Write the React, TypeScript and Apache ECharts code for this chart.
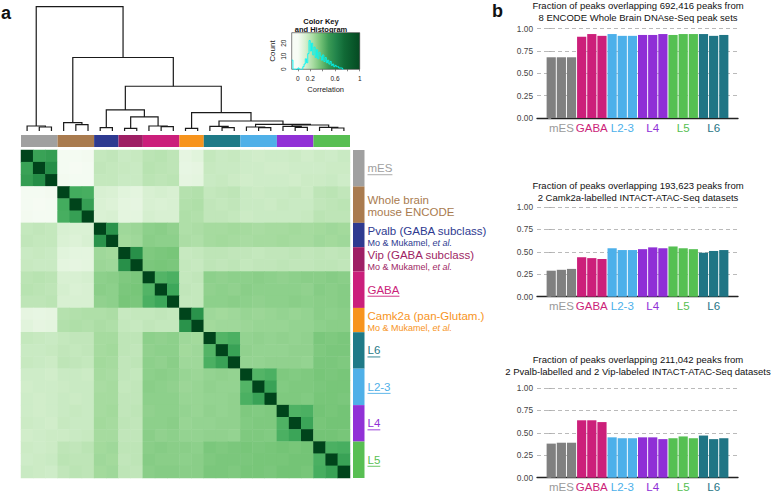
import React, { useEffect, useRef } from "react";
import * as echarts from "echarts";

// ---------- Heatmap groups ----------
const GROUP_SIZES = [3, 3, 2, 2, 3, 2, 3, 3, 3, 3];
const GROUP_COLORS = ["#a0a0a0", "#a97b4f", "#2e3a90", "#9e1f64", "#cb1f7b", "#f7941d", "#1f7a87", "#4fb0e8", "#9131d6", "#58bf53"];
const ROW_LABELS = ["mES", "Whole brain\nmouse ENCODE", "Pvalb (GABA subclass)", "Vip (GABA subclass)", "GABA", "Camk2a (pan-Glutam.)", "L6", "L2-3", "L4", "L5"];
const ROW_LABEL_SUB = [false, false, true, true, false, true, false, false, false, false];
const ROW_LABEL_UNDERLINE = [true, false, false, false, true, false, true, true, true, true];

// correlation (percent), rows/cols in dendrogram order
const CORRELATION = [
  [100, 66, 68, 2, 2, 3, 26, 27, 24, 25, 29, 30, 28, 12, 14, 26, 24, 25, 22, 21, 22, 22, 23, 21, 23, 22, 24],
  [66, 100, 74, 2, 1, 2, 27, 26, 25, 24, 30, 29, 28, 11, 12, 25, 24, 24, 22, 22, 21, 21, 22, 22, 22, 23, 23],
  [68, 74, 100, 3, 2, 2, 26, 26, 24, 24, 29, 28, 29, 12, 13, 24, 25, 23, 21, 22, 22, 22, 21, 23, 23, 24, 22],
  [2, 2, 3, 100, 62, 61, 18, 17, 14, 13, 18, 19, 18, 31, 32, 26, 27, 28, 24, 23, 24, 24, 25, 23, 28, 29, 27],
  [2, 1, 2, 62, 100, 67, 17, 16, 13, 12, 18, 17, 18, 32, 33, 27, 26, 27, 24, 24, 23, 25, 24, 24, 27, 28, 29],
  [3, 2, 2, 61, 67, 100, 17, 18, 13, 13, 19, 18, 18, 33, 32, 27, 27, 26, 23, 24, 24, 24, 24, 25, 29, 28, 28],
  [26, 27, 26, 18, 17, 17, 100, 72, 38, 39, 43, 44, 42, 33, 34, 36, 36, 37, 36, 35, 36, 36, 37, 36, 37, 38, 37],
  [27, 26, 26, 17, 16, 18, 72, 100, 37, 38, 44, 43, 43, 34, 33, 36, 37, 36, 35, 36, 36, 37, 36, 36, 38, 37, 38],
  [24, 25, 24, 14, 13, 13, 38, 37, 100, 73, 47, 48, 49, 25, 26, 28, 28, 27, 27, 26, 27, 27, 28, 27, 28, 27, 28],
  [25, 24, 24, 13, 12, 13, 39, 38, 73, 100, 48, 49, 48, 26, 25, 28, 27, 28, 26, 27, 27, 28, 27, 27, 28, 28, 27],
  [29, 30, 29, 18, 18, 19, 43, 44, 47, 48, 100, 58, 60, 26, 27, 43, 42, 43, 43, 44, 43, 42, 43, 44, 44, 45, 44],
  [30, 29, 28, 19, 17, 18, 44, 43, 48, 49, 58, 100, 64, 27, 26, 42, 43, 42, 44, 43, 43, 43, 43, 42, 45, 44, 45],
  [28, 28, 29, 18, 18, 18, 42, 43, 49, 48, 60, 64, 100, 26, 26, 43, 43, 44, 43, 42, 43, 43, 44, 43, 44, 44, 45],
  [12, 11, 12, 31, 32, 33, 33, 34, 25, 26, 26, 27, 26, 100, 72, 38, 37, 38, 40, 39, 40, 41, 40, 41, 44, 43, 44],
  [14, 12, 13, 32, 33, 32, 34, 33, 26, 25, 27, 26, 26, 72, 100, 37, 38, 38, 39, 40, 40, 40, 41, 41, 43, 44, 44],
  [26, 25, 24, 26, 27, 27, 36, 36, 28, 28, 43, 42, 43, 38, 37, 100, 58, 60, 41, 42, 41, 42, 41, 42, 48, 47, 48],
  [24, 24, 25, 27, 26, 27, 36, 37, 28, 27, 42, 43, 43, 37, 38, 58, 100, 66, 42, 41, 41, 41, 42, 42, 47, 48, 48],
  [25, 24, 23, 28, 27, 26, 37, 36, 27, 28, 43, 42, 44, 38, 38, 60, 66, 100, 41, 41, 42, 42, 42, 41, 48, 48, 47],
  [22, 22, 21, 24, 24, 23, 36, 35, 27, 26, 43, 44, 43, 40, 39, 41, 42, 41, 100, 58, 60, 47, 46, 47, 49, 48, 49],
  [21, 22, 22, 23, 24, 24, 35, 36, 26, 27, 44, 43, 42, 39, 40, 42, 41, 41, 58, 100, 66, 46, 47, 47, 48, 49, 49],
  [22, 21, 22, 24, 23, 24, 36, 36, 27, 27, 43, 43, 43, 40, 40, 41, 41, 42, 60, 66, 100, 47, 47, 46, 49, 49, 48],
  [22, 21, 22, 24, 25, 24, 36, 37, 27, 28, 42, 43, 43, 41, 40, 42, 41, 42, 47, 46, 47, 100, 59, 60, 50, 49, 50],
  [23, 22, 21, 25, 24, 24, 37, 36, 28, 27, 43, 43, 44, 40, 41, 41, 42, 42, 46, 47, 47, 59, 100, 65, 49, 50, 50],
  [21, 22, 23, 23, 24, 25, 36, 36, 27, 27, 44, 42, 43, 41, 41, 42, 42, 41, 47, 47, 46, 60, 65, 100, 50, 50, 49],
  [23, 22, 23, 28, 27, 29, 37, 38, 28, 28, 44, 45, 44, 44, 43, 48, 47, 48, 49, 48, 49, 50, 49, 50, 100, 60, 61],
  [22, 23, 24, 29, 28, 28, 38, 37, 27, 28, 45, 44, 44, 43, 44, 47, 48, 48, 48, 49, 49, 49, 50, 50, 60, 100, 66],
  [24, 23, 22, 27, 29, 28, 37, 38, 28, 27, 44, 45, 45, 44, 44, 48, 48, 47, 49, 49, 48, 50, 50, 49, 61, 66, 100],
];

// dendrogram merges: [childA, childB, height]; leaves 0..26, new clusters from 27
const LINKAGE: [number, number, number][] = [
  [1, 2, 12], [0, 27, 15], [4, 5, 19], [3, 29, 25], [6, 7, 10], [8, 9, 8], [11, 12, 13], [10, 33, 15],
  [32, 34, 42], [31, 35, 63], [13, 14, 8], [16, 17, 10], [15, 38, 14], [19, 20, 10], [18, 40, 12],
  [22, 23, 11], [21, 42, 14], [25, 26, 9], [24, 44, 11], [43, 45, 18], [41, 46, 20], [39, 47, 30],
  [37, 48, 55], [36, 49, 134], [30, 50, 220], [28, 51, 372],
];
const DENDRO_MAX = 372;

// color key histogram
const HIST_X = [-0.1, -0.08, 0, 0.02, 0.04, 0.06, 0.08, 0.1, 0.12, 0.14, 0.16, 0.18, 0.2, 0.22, 0.24, 0.26, 0.28, 0.3, 0.32, 0.34, 0.36, 0.38, 0.4, 0.42, 0.44, 0.46, 0.48, 0.5, 0.52, 0.54, 0.56, 0.58, 0.6, 0.62, 0.64, 0.66, 0.68, 0.7, 0.72, 0.74];
const HIST_COUNT = [7, 0, 1, 0, 0, 0, 2, 4, 8, 5, 12, 22, 14, 20, 11, 17, 9, 15, 8, 13, 10, 7, 11, 6, 9, 5, 7, 4, 6, 3, 4, 2, 3, 2, 2, 1, 1, 1, 0, 0];

const GREENS = ["#f7fcf5", "#e5f5e0", "#c7e9c0", "#a1d99b", "#74c476", "#41ab5d", "#238b45", "#006d2c", "#00441b"];
const KEY_COLORS = ["#f7fcf5", "#d5efcf", "#a6dba0", "#6fbf73", "#3a9a55", "#21834a", "#116a36", "#0a5a2c", "#054a22"];

// ---------- Bar panels ----------
const BAR_GROUPS = ["mES", "GABA", "L2-3", "L4", "L5", "L6"];
const BAR_GROUP_COLORS = ["#808080", "#cc1f7a", "#4cb0ea", "#8f2fd6", "#55c052", "#1f7585"];
const BAR_LABEL_COLORS = ["#9a9a9a", "#cc1f7a", "#4cb0ea", "#8f2fd6", "#55c052", "#1f7585"];
const ENCODE_FRACTION = [0.68, 0.68, 0.68, 0.91, 0.94, 0.92, 0.94, 0.92, 0.92, 0.93, 0.93, 0.94, 0.93, 0.94, 0.94, 0.94, 0.92, 0.93];
const CAMK2A_FRACTION = [0.29, 0.30, 0.31, 0.44, 0.43, 0.42, 0.54, 0.52, 0.52, 0.53, 0.55, 0.54, 0.56, 0.54, 0.53, 0.49, 0.51, 0.52];
const PVALB_VIP_FRACTION = [0.38, 0.39, 0.39, 0.64, 0.64, 0.62, 0.45, 0.44, 0.44, 0.45, 0.45, 0.43, 0.44, 0.46, 0.44, 0.47, 0.43, 0.44];
const BAR_TITLES = [
  "Fraction of peaks overlapping 692,416 peaks from\n8 ENCODE Whole Brain DNAse-Seq peak sets",
  "Fraction of peaks overlapping 193,623 peaks from\n2 Camk2a-labelled INTACT-ATAC-Seq datasets",
  "Fraction of peaks overlapping 211,042 peaks from\n2 Pvalb-labelled and 2 Vip-labeled INTACT-ATAC-Seq datasets",
];

const FONT = "Liberation Sans, Arial, Helvetica, sans-serif";

export default function App() {
  const ref = useRef<HTMLDivElement>(null);
  useEffect(() => {
    const chart = echarts.init(ref.current!, null, { renderer: "svg" });
    const N = 27;
    const idx = Array.from({ length: N }, (_, i) => String(i));

    // dendrogram layout
    const nodeX: number[] = [];
    const nodeH: number[] = [];
    for (let i = 0; i < N; i++) { nodeX.push(i); nodeH.push(0); }
    const dendroData = LINKAGE.map(([a, b, h]) => {
      const item = [nodeX[a], nodeH[a], nodeX[b], nodeH[b], h];
      nodeX.push((nodeX[a] + nodeX[b]) / 2);
      nodeH.push(h);
      return item;
    });

    // group ranges
    const groupRanges: number[][] = [];
    let s = 0;
    GROUP_SIZES.forEach((n, k) => { groupRanges.push([s, s + n - 1, k]); s += n; });

    const heatData: number[][] = [];
    CORRELATION.forEach((row, r) => row.forEach((v, c) => heatData.push([c, r, v / 100])));

    const canvas = document.createElement("canvas");
    const ctx = canvas.getContext("2d")!;
    ctx.font = '11.5px "Liberation Sans"';

    const grids = [
      { left: 21, top: 6.7, width: 329, height: 124.3 },
      { left: 21, top: 135, width: 329, height: 12 },
      { left: 21, top: 150, width: 329, height: 328 },
      { left: 353, top: 150, width: 11.5, height: 328 },
      { left: 291.7, top: 32.7, width: 68, height: 36.6 },
      { left: 537, top: 28.7, width: 201, height: 89.3 },
      { left: 537, top: 207, width: 201, height: 89.7 },
      { left: 537, top: 388, width: 201, height: 89.7 },
    ];

    const xAxes: any[] = [
      { gridIndex: 0, type: "value", min: -0.5, max: 26.5, show: false },
      { gridIndex: 1, type: "category", data: idx, show: false },
      { gridIndex: 2, type: "category", data: idx, show: false },
      { gridIndex: 3, type: "value", min: 0, max: 1, show: false },
      {
        gridIndex: 4, type: "value", min: -0.1, max: 1,
        axisLine: { show: false },
        axisTick: { show: true, length: 2, lineStyle: { color: "#333", width: 0.6 }, customValues: [0, 0.2, 0.4, 0.6, 0.8, 1] },
        axisLabel: { fontSize: 6.5, color: "#222", margin: 6, customValues: [0, 0.2, 0.6, 1], fontFamily: FONT },
        splitLine: { show: false },
        name: "Correlation", nameLocation: "middle", nameGap: 16,
        nameTextStyle: { fontSize: 7.5, color: "#222", fontFamily: FONT },
      },
    ];
    const yAxes: any[] = [
      { gridIndex: 0, type: "value", min: 0, max: DENDRO_MAX, show: false },
      { gridIndex: 1, type: "value", min: 0, max: 1, show: false },
      { gridIndex: 2, type: "category", data: idx, inverse: true, show: false },
      { gridIndex: 3, type: "category", data: idx, inverse: true, show: false },
      {
        gridIndex: 4, type: "value", min: 0, max: 28,
        axisLine: { show: false },
        axisTick: { show: true, length: 2, lineStyle: { color: "#333", width: 0.6 }, customValues: [0, 5, 10, 15, 20, 25] },
        axisLabel: { fontSize: 6.5, color: "#222", margin: 5, rotate: 90, customValues: [0, 10, 20], fontFamily: FONT },
        splitLine: { show: false },
        name: "Count", nameLocation: "middle", nameGap: 15, nameRotate: 90,
        nameTextStyle: { fontSize: 8, color: "#222", fontFamily: FONT },
      },
    ];
    for (let p = 0; p < 3; p++) {
      xAxes.push({
        gridIndex: 5 + p, type: "value", min: -1.4, max: 18.4,
        axisLine: { show: true, onZero: false, lineStyle: { color: "#222", width: 1.3 } },
        axisTick: { show: false }, axisLabel: { show: false }, splitLine: { show: false },
      });
      yAxes.push({
        gridIndex: 5 + p, type: "value", min: 0, max: 1, interval: 0.25,
        axisLine: { show: false },
        axisTick: { show: true, length: 3, lineStyle: { color: "#999", width: 0.8 } },
        axisLabel: { fontSize: 8.3, color: "#444", margin: 4, formatter: (v: number) => v.toFixed(2), fontFamily: FONT },
        splitLine: { show: true, lineStyle: { color: "#a8a8a8", width: 0.8, type: [4, 3] } },
      });
    }

    const series: any[] = [
      {
        type: "custom", xAxisIndex: 0, yAxisIndex: 0, data: dendroData, silent: true,
        renderItem: (params: any, api: any) => {
          const xa = api.value(0), ha = api.value(1), xb = api.value(2), hb = api.value(3), h = api.value(4);
          return {
            type: "polyline",
            shape: { points: [api.coord([xa, ha]), api.coord([xa, h]), api.coord([xb, h]), api.coord([xb, hb])] },
            style: { stroke: "#1a1a1a", lineWidth: 1.2, fill: "none" },
          };
        },
      },
      {
        type: "custom", xAxisIndex: 1, yAxisIndex: 1, data: groupRanges, silent: true,
        renderItem: (params: any, api: any) => {
          const a = api.coord([api.value(0), 0]);
          const b = api.coord([api.value(1), 0]);
          const bw = api.size([1, 0])[0];
          const cs = params.coordSys;
          return {
            type: "rect",
            shape: { x: a[0] - bw / 2, y: cs.y, width: b[0] - a[0] + bw, height: cs.height },
            style: { fill: GROUP_COLORS[api.value(2)] },
          };
        },
      },
      {
        type: "heatmap", xAxisIndex: 2, yAxisIndex: 2, data: heatData, silent: true,
        emphasis: { disabled: true }, progressive: 0,
      },
      {
        type: "custom", xAxisIndex: 3, yAxisIndex: 3, data: groupRanges, silent: true,
        renderItem: (params: any, api: any) => {
          const k = api.value(2);
          const a = api.coord([0, api.value(0)]);
          const b = api.coord([0, api.value(1)]);
          const bh = api.size([0, 1])[1];
          const cs = params.coordSys;
          const color = GROUP_COLORS[k];
          const cy = (a[1] + b[1]) / 2;
          const tx = cs.x + cs.width + 3;
          const children: any[] = [
            { type: "rect", shape: { x: cs.x, y: a[1] - bh / 2, width: cs.width, height: b[1] - a[1] + bh }, style: { fill: color } },
          ];
          const label = ROW_LABELS[k];
          if (ROW_LABEL_SUB[k]) {
            children.push({
              type: "text", x: tx, y: cy + 1.5,
              style: {
                text: `{m|${label}}\n{s|Mo & Mukamel, }{i|et al.}`,
                fill: color, align: "left", verticalAlign: "middle", fontFamily: FONT,
                rich: {
                  m: { fontSize: 11.5, lineHeight: 12.5, fill: color, fontFamily: FONT },
                  s: { fontSize: 9, lineHeight: 11, fill: color, fontFamily: FONT },
                  i: { fontSize: 9, lineHeight: 11, fill: color, fontStyle: "italic", fontFamily: FONT },
                },
              },
            });
          } else {
            children.push({
              type: "text", x: tx, y: label.includes("\n") ? cy + 1.5 : cy,
              style: { text: label, fill: color, fontSize: 11.5, lineHeight: 11.5, align: "left", verticalAlign: "middle", fontFamily: FONT },
            });
          }
          if (ROW_LABEL_UNDERLINE[k]) {
            const w = ctx.measureText(label).width;
            children.push({ type: "line", shape: { x1: tx, y1: cy + 6.5, x2: tx + w, y2: cy + 6.5 }, style: { stroke: color, lineWidth: 0.9 } });
          }
          return { type: "group", children };
        },
      },
      {
        type: "custom", xAxisIndex: 4, yAxisIndex: 4, data: [[-0.1, 28, 1, 0]], silent: true, z: 2,
        renderItem: (params: any, api: any) => {
          const a = api.coord([api.value(0), api.value(1)]);
          const b = api.coord([api.value(2), api.value(3)]);
          const stops = KEY_COLORS.map((c, i) => ({ offset: (i / (KEY_COLORS.length - 1) + 0.1) / 1.1, color: c }));
          stops.unshift({ offset: 0, color: KEY_COLORS[0] });
          return {
            type: "rect",
            shape: { x: a[0], y: a[1], width: b[0] - a[0], height: b[1] - a[1] },
            style: { fill: new echarts.graphic.LinearGradient(0, 0, 1, 0, stops), stroke: "#333", lineWidth: 0.6 },
          };
        },
      },
      {
        type: "line", xAxisIndex: 4, yAxisIndex: 4, z: 3, silent: true, step: "end", symbol: "none",
        data: HIST_X.map((x, i) => [x, HIST_COUNT[i]]),
        lineStyle: { color: "#00f5f5", width: 0.9 },
      },
    ];

    const fractions = [ENCODE_FRACTION, CAMK2A_FRACTION, PVALB_VIP_FRACTION];
    fractions.forEach((vals, p) => {
      series.push({
        type: "bar", xAxisIndex: 5 + p, yAxisIndex: 5 + p, barWidth: 9.2, silent: true,
        data: vals.map((v, i) => ({ value: [i, v], itemStyle: { color: BAR_GROUP_COLORS[Math.floor(i / 3)] } })),
      });
    });
    fractions.forEach((_, p) => {
      series.push({
        type: "custom", xAxisIndex: 5 + p, yAxisIndex: 5 + p, silent: true,
        data: BAR_GROUPS.map((g, k) => [3 * k + 1, k]),
        renderItem: (params: any, api: any) => {
          const k = api.value(1);
          const pt = api.coord([api.value(0), 0]);
          return {
            type: "text", x: pt[0], y: pt[1] + 9.5,
            style: { text: BAR_GROUPS[k], fill: BAR_LABEL_COLORS[k], fontSize: 11.5, align: "center", verticalAlign: "middle", fontFamily: FONT },
          };
        },
      });
    });

    const titleTops = [-0.8, 179.5, 353.5];
    const graphic: any[] = [
      { type: "text", x: 1, y: 4, style: { text: "a", fontSize: 18, fontWeight: "bold", fill: "#111", fontFamily: FONT } },
      { type: "text", x: 492, y: 2, style: { text: "b", fontSize: 18, fontWeight: "bold", fill: "#111", fontFamily: FONT } },
      { type: "text", x: 321, y: 21.5, style: { text: "Color Key", fontSize: 7.5, fontWeight: "bold", fill: "#111", align: "center", verticalAlign: "middle", fontFamily: FONT } },
      { type: "text", x: 321, y: 29, style: { text: "and Histogram", fontSize: 7.5, fontWeight: "bold", fill: "#111", align: "center", verticalAlign: "middle", fontFamily: FONT } },
    ];
    BAR_TITLES.forEach((t, p) => {
      graphic.push({
        type: "text", x: 638, y: titleTops[p],
        style: { text: t, fontSize: 9.5, lineHeight: 12, fill: "#111", align: "center", verticalAlign: "top", fontFamily: FONT },
      });
    });

    chart.setOption({
      animation: false,
      backgroundColor: "#ffffff",
      textStyle: { fontFamily: FONT },
      grid: grids,
      xAxis: xAxes,
      yAxis: yAxes,
      visualMap: {
        type: "continuous", show: false, min: 0, max: 1, dimension: 2, seriesIndex: 2,
        inRange: { color: GREENS },
      },
      series,
      graphic,
    });
    return () => chart.dispose();
  }, []);
  return <div ref={ref} style={{ position: "fixed", left: 0, top: 0, width: 777, height: 494, background: "#fff" }} />;
}
